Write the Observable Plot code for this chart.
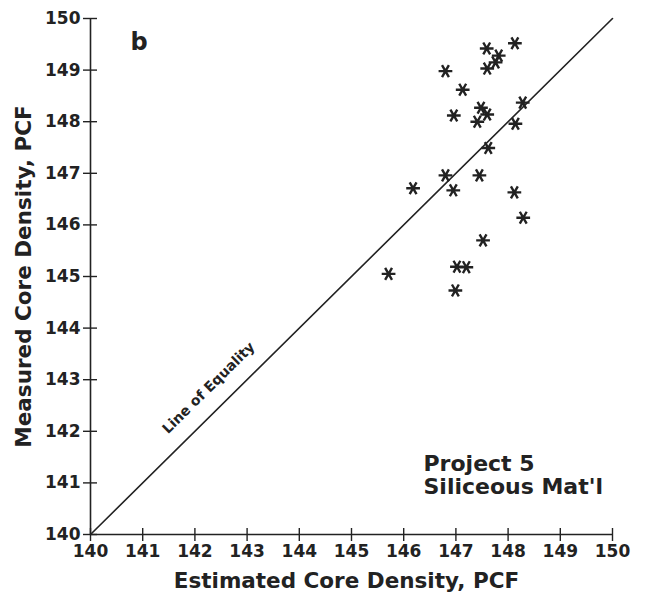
<!DOCTYPE html>
<html>
<head>
<meta charset="utf-8">
<script src="https://cdn.jsdelivr.net/npm/d3@7"></script>
<script src="https://cdn.jsdelivr.net/npm/@observablehq/plot@0.6"></script>
<style>
  html, body { margin: 0; padding: 0; background: #fff; }
  #chart { width: 645px; height: 595px; }
</style>
</head>
<body>
<div id="chart"></div>
<script>
// Estimated (x) and measured (y) core densities, PCF
const estimated = [148.13, 147.59, 147.82, 147.76, 147.60, 146.80, 147.13, 146.96, 147.48, 147.60, 147.41, 148.28, 148.14, 147.62, 146.80, 147.45, 146.18, 146.95, 148.12, 148.29, 147.52, 147.02, 147.20, 145.71, 146.99];
const measured  = [149.52, 149.42, 149.28, 149.15, 149.03, 148.98, 148.62, 148.12, 148.27, 148.14, 148.00, 148.37, 147.96, 147.49, 146.96, 146.96, 146.71, 146.67, 146.63, 146.14, 145.70, 145.19, 145.18, 145.05, 144.73];
const tickValues = [140, 141, 142, 143, 144, 145, 146, 147, 148, 149, 150];
const domain = [140, 150];
const xTitle = "Estimated Core Density, PCF";
const yTitle = "Measured Core Density, PCF";
const panelLabel = "b";
const lineLabel = "Line of Equality";
const noteLines = "Project 5\nSiliceous Mat'l";
const labelPoint = [142.55];

const data = estimated.map((x, i) => ({x, y: measured[i]}));
const ink = "#222";
const fmt = d3.format("d");

const chart = Plot.plot({
  width: 645,
  height: 595,
  marginLeft: 90,
  marginRight: 33,
  marginTop: 18,
  marginBottom: 61,
  x: {domain, ticks: tickValues, tickFormat: fmt},
  y: {domain, ticks: tickValues, tickFormat: fmt},
  style: {fontFamily: "'DejaVu Sans', sans-serif", fontSize: "17px", fontWeight: "bold", color: ink, background: "#fff"},
  marks: [
    // axis lines
    Plot.ruleX([domain[0]], {stroke: ink, strokeWidth: 1.6}),
    Plot.ruleY([domain[0]], {stroke: ink, strokeWidth: 1.6}),
    // crossing tick marks
    Plot.axisX(tickValues, {tickSize: 13, dy: -6, tickFormat: () => "", label: null, stroke: ink, strokeWidth: 1.4}),
    Plot.axisY(tickValues, {tickSize: 14, dx: 7, tickFormat: () => "", label: null, stroke: ink, strokeWidth: 1.4}),
    // tick labels
    Plot.axisX(tickValues, {tickSize: 0, tickPadding: 10, label: null, fill: ink, tickFormat: fmt}),
    Plot.axisY(tickValues, {tickSize: 0, tickPadding: 10, label: null, fill: ink, tickFormat: fmt}),
    // line of equality
    Plot.line(domain, {x: d => d, y: d => d, stroke: ink, strokeWidth: 1.6}),
    Plot.text(labelPoint, {x: d => d, y: d => d, text: () => lineLabel, rotate: -44.7, dx: -15, dy: -15, fontSize: 14, fontWeight: "bold", fill: ink}),
    // points
    Plot.dot(data, {x: "x", y: "y", symbol: "asterisk", r: 6.5, stroke: ink, strokeWidth: 2.4, rotate: 90}),
    // titles and annotations
    Plot.text([xTitle], {frameAnchor: "bottom", textAnchor: "middle", dx: -5, dy: 53, fontSize: 21.5, fontWeight: "bold", fill: ink}),
    Plot.text([yTitle], {frameAnchor: "left", textAnchor: "middle", lineAnchor: "middle", rotate: -90, dx: -66, fontSize: 21.5, fontWeight: "bold", fill: ink}),
    Plot.text([panelLabel], {frameAnchor: "top-left", textAnchor: "start", lineAnchor: "top", dx: 40, dy: 14, fontSize: 24, fontWeight: "bold", fill: ink}),
    Plot.text([noteLines], {frameAnchor: "bottom-right", textAnchor: "start", lineAnchor: "top", dx: -189, dy: -80, lineHeight: 1.05, fontSize: 22, fontWeight: "bold", fill: ink})
  ]
});
document.getElementById("chart").appendChild(chart);
</script>
</body>
</html>
